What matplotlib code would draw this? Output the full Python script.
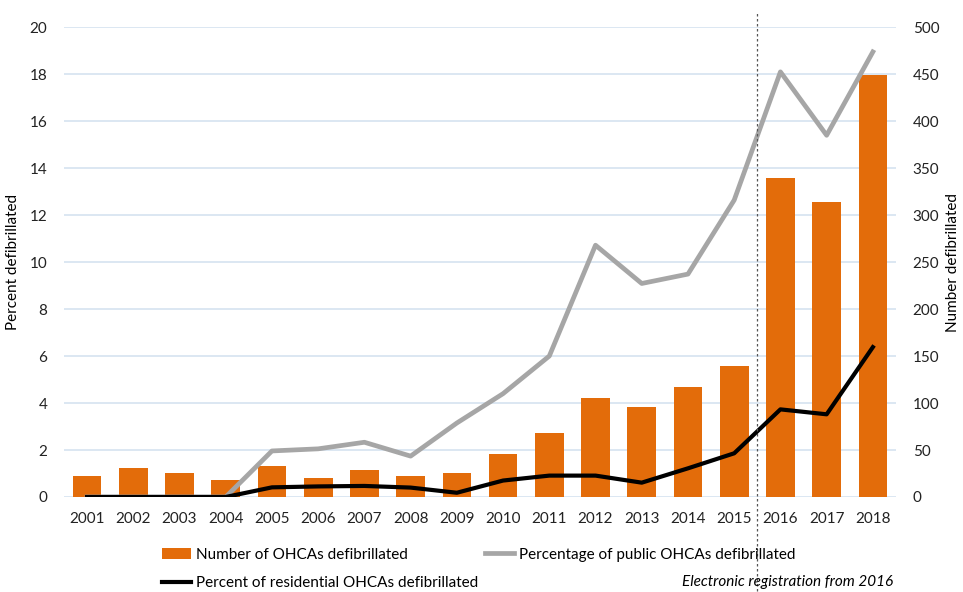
import matplotlib
matplotlib.use("Agg")
import matplotlib.pyplot as plt
import numpy as np

plt.rcParams['font.family'] = ['Lato', 'DejaVu Sans']

# data
years = [str(y) for y in range(2001, 2019)]
number_defib = [22, 31, 25, 18, 33, 20, 29, 22, 25, 46, 68, 105, 96, 117, 139, 339, 314, 449]
pct_public = [0, 0, 0, 0, 1.96, 2.05, 2.33, 1.74, 3.15, 4.4, 6.0, 10.72, 9.09, 9.49, 12.64, 18.1, 15.4, 18.95]
pct_residential = [0, 0, 0, 0, 0.41, 0.45, 0.47, 0.4, 0.18, 0.7, 0.91, 0.91, 0.61, 1.22, 1.86, 3.73, 3.52, 6.38]

orange = '#E36C0A'
grid_col = '#D6E3F0'

fig = plt.figure(figsize=(9.63, 5.92), dpi=100)
ax = fig.add_axes([0.0664, 0.1605, 0.864, 0.7935])
ax2 = ax.twinx()

x = np.arange(len(years))

# bars on the right axis, drawn behind the lines
ax.set_zorder(ax2.get_zorder() + 1)
ax.patch.set_visible(False)
bars = ax2.bar(x, number_defib, width=0.62, color=orange, zorder=2,
               label='Number of OHCAs defibrillated')

gray_line, = ax.plot(x, pct_public, color='#A6A6A6', lw=3.4,
                     label='Percentage of public OHCAs defibrillated', zorder=3)
black_line, = ax.plot(x, pct_residential, color='black', lw=3.0,
                      label='Percent of residential OHCAs defibrillated', zorder=4)

ax.set_xlim(-0.5, len(years) - 0.5)
ax.set_ylim(0, 20)
ax2.set_ylim(0, 500)
ax.set_yticks(range(0, 21, 2))
ax2.set_yticks(range(0, 501, 50))
ax.set_xticks(x)
ax.set_xticklabels(years)

# gridlines on the bar axis so they sit behind the bars
for v in range(0, 501, 50):
    ax2.axhline(v, color=grid_col, lw=1.2, zorder=0)

for a in (ax, ax2):
    for s in a.spines.values():
        s.set_visible(False)
    a.tick_params(length=0, labelsize=11, colors='#222222')
ax.tick_params(axis='x', pad=11)
ax.tick_params(axis='y', pad=12)
ax2.tick_params(axis='y', pad=12)

ax.set_ylabel('Percent defibrillated', fontsize=11, labelpad=7)
ax2.set_ylabel('Number defibrillated', fontsize=11, rotation=90, labelpad=5)

# dashed separator for electronic registration
ax.axvline(14.5, ymin=-0.2, ymax=1.03, color='#555555', lw=0.9, ls=(0, (2, 2)),
           clip_on=False, zorder=5)

leg = fig.legend(handles=[bars, black_line, gray_line],
                 labels=['Number of OHCAs defibrillated',
                         'Percent of residential OHCAs defibrillated',
                         'Percentage of public OHCAs defibrillated'],
                 ncol=2, loc='upper left', bbox_to_anchor=(0.168, 0.075),
                 frameon=False, fontsize=11, handlelength=1.9, handletextpad=0.35,
                 columnspacing=0.4, labelspacing=0.95, borderaxespad=0,
                 borderpad=0)

fig.text(0.927, 0.0165, 'Electronic registration from 2016', ha='right', va='center',
         fontsize=11, style='italic')

fig.savefig('out.png', dpi=100)
